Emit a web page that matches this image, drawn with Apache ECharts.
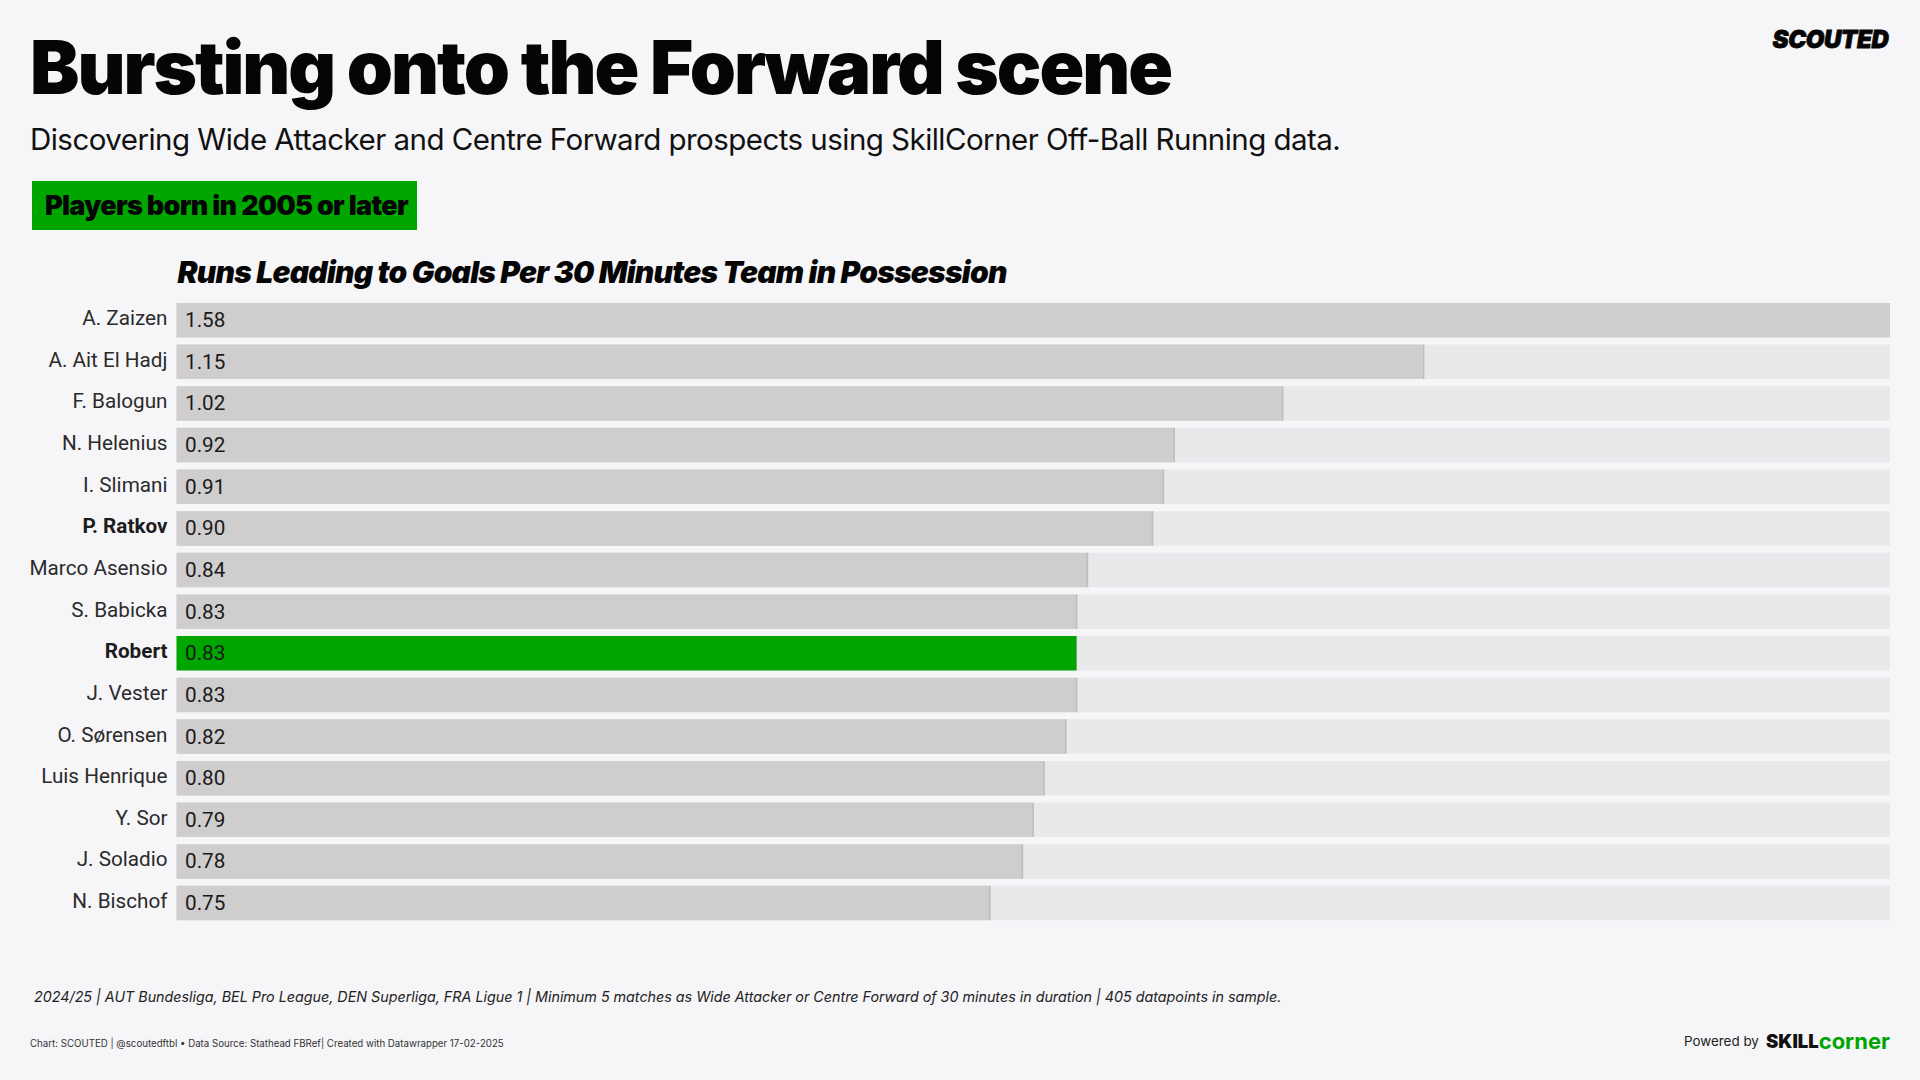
<!DOCTYPE html>
<html lang="en">
<head>
<meta charset="UTF-8">
<title>Bursting onto the Forward scene</title>
<script src="https://cdn.jsdelivr.net/npm/echarts@6/dist/echarts.min.js"></script>
<style>
    html, body { margin: 0; padding: 0; background: #f6f5f8; }
    #chart { width: 1920px; height: 1080px; }
    /* echarts has no letter spacing option, the svg text takes it from css */
    #chart [style*="74px"] { letter-spacing: -2.05px; }
    #chart [style*="29.5px"] { letter-spacing: -0.54px; }
    #chart [style*="27px"] { letter-spacing: -0.69px; }
    #chart [style*="30px"] { letter-spacing: -0.77px; }
    #chart [style*="24px"] { letter-spacing: -0.4px; }
</style>
</head>
<body>
<div id="chart"></div>
<script>
    var players = ['A. Zaizen', 'A. Ait El Hadj', 'F. Balogun', 'N. Helenius', 'I. Slimani', 'P. Ratkov', 'Marco Asensio', 'S. Babicka', 'Robert', 'J. Vester', 'O. Sørensen', 'Luis Henrique', 'Y. Sor', 'J. Soladio', 'N. Bischof'];
    var runs = [1.58, 1.15, 1.02, 0.92, 0.91, 0.90, 0.84, 0.83, 0.83, 0.83, 0.82, 0.80, 0.79, 0.78, 0.75];
    var boldPlayers = ['P. Ratkov', 'Robert'];
    var greenPlayers = ['Robert'];

    var GREEN = '#00a500';
    var INK = '#050505';

    var myChart = echarts.init(document.getElementById('chart'), null, { renderer: 'svg' });

    // 灰色柱子 + 绿色高亮
    var barData = runs.map(function (v, i) {
        return {
            value: v,
            itemStyle: { color: greenPlayers.indexOf(players[i]) > -1 ? GREEN : '#cfcdce' }
        };
    });
    // 柱子末端的细线 (绿色和最长的那条没有)
    var maxRun = Math.max.apply(null, runs);
    var endLines = runs.map(function (v, i) {
        return greenPlayers.indexOf(players[i]) > -1 || v === maxRun ? null : v;
    });

    var option = {
        backgroundColor: '#f6f5f8',
        animation: false,
        graphic: [
            { type: 'rect', z: 1, shape: { x: 32, y: 181, width: 385, height: 49 }, style: { fill: GREEN } }
        ],
        title: [
            {
                text: 'Bursting onto the Forward scene', left: 30, top: 30, padding: 0,
                textStyle: { fontFamily: 'Inter', fontSize: 74, fontWeight: 900, color: INK }
            },
            {
                text: 'Discovering Wide Attacker and Centre Forward prospects using SkillCorner Off-Ball Running data.', left: 30, top: 124, padding: 0,
                textStyle: { fontFamily: 'Inter', fontSize: 29.5, fontWeight: 400, color: '#111' }
            },
            {
                text: 'Players born in 2005 or later', left: 45, top: 192, padding: 0,
                textStyle: { fontFamily: 'Inter', fontSize: 27, fontWeight: 900, color: INK }
            },
            {
                text: 'Runs Leading to Goals Per 30 Minutes Team in Possession', left: 177.5, top: 257, padding: 0,
                textStyle: { fontFamily: 'Inter', fontSize: 30, fontWeight: 900, fontStyle: 'italic', color: INK }
            },
            {
                text: '2024/25 | AUT Bundesliga, BEL Pro League, DEN Superliga, FRA Ligue 1 | Minimum 5 matches as Wide Attacker or Centre Forward of 30 minutes in duration | 405 datapoints in sample.', left: 34, top: 989, padding: 0,
                textStyle: { fontFamily: 'Inter', fontSize: 14.3, fontWeight: 400, fontStyle: 'italic', color: '#222' }
            },
            {
                text: 'Chart: SCOUTED | @scoutedftbl • Data Source: Stathead FBRef| Created with Datawrapper 17-02-2025', left: 30, top: 1038, padding: 0,
                textStyle: { fontFamily: 'Inter', fontSize: 9.7, fontWeight: 400, color: '#333' }
            },
            {
                text: 'Powered by', left: 1684, top: 1034, padding: 0,
                textStyle: { fontFamily: 'Inter', fontSize: 13.4, fontWeight: 400, color: '#222' }
            },
            {
                text: '{a|SKILL}{b|corner}', right: 30, top: 1030, padding: 0,
                textStyle: {
                    rich: {
                        a: { fontFamily: 'Inter', fontSize: 18.5, fontWeight: 900, color: '#111' },
                        b: { fontFamily: 'Inter', fontSize: 22, fontWeight: 700, color: GREEN }
                    }
                }
            },
            {
                text: 'SCOUTED', right: 28, top: 27, padding: 0,
                textStyle: { fontFamily: 'Inter', fontSize: 24, fontWeight: 900, fontStyle: 'italic', color: INK, textBorderColor: INK, textBorderWidth: 0.8 }
            }
        ],
        grid: { left: 176.5, top: 299.4, width: 1713.5, height: 624.5 },
        xAxis: { type: 'value', min: 0, max: 1.58, show: false },
        yAxis: {
            type: 'category',
            inverse: true,
            data: players,
            axisLine: { show: false },
            axisTick: { show: false },
            axisLabel: {
                margin: 9,
                padding: [0, 0, 4, 0],
                fontFamily: 'Roboto',
                fontSize: 20.7,
                color: '#2b2b2b',
                formatter: function (name) {
                    return boldPlayers.indexOf(name) > -1 ? '{b|' + name + '}' : name;
                },
                rich: { b: { fontFamily: 'Roboto', fontSize: 20.7, fontWeight: 700, color: '#1c1c1c' } }
            }
        },
        series: [
            {
                type: 'bar',
                data: barData,
                barWidth: 34.5,
                showBackground: true,
                backgroundStyle: { color: '#e9e8ea' },
                label: {
                    show: true,
                    position: 'insideLeft',
                    distance: 8.5,
                    fontFamily: 'Roboto',
                    fontSize: 20.7,
                    color: '#1a1a1a',
                    formatter: function (p) { return p.value.toFixed(2); }
                }
            },
            {
                type: 'scatter',
                data: endLines,
                symbol: 'rect',
                symbolSize: [1.5, 34.5],
                itemStyle: { color: '#b7b5b7' },
                silent: true,
                z: 3
            }
        ]
    };

    myChart.setOption(option);
</script>
</body>
</html>
